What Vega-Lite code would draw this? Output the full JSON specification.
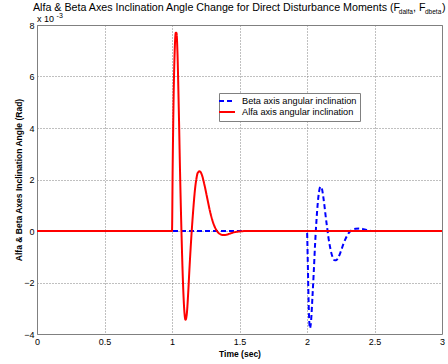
{
  "$schema": "https://vega.github.io/schema/vega-lite/v6.json",
  "autosize": "none",
  "width": 405,
  "height": 309,
  "padding": {"left": 37, "top": 25, "right": 6, "bottom": 30},
  "background": "white",
  "config": {
    "view": {"stroke": "#808080", "strokeWidth": 1},
    "font": "Liberation Sans"
  },
  "datasets": {
    "curves": [
      {"t": 0, "v": 0, "series": "Beta axis angular inclination"},
      {"t": 2.0, "v": 0, "series": "Beta axis angular inclination"},
      {"t": 2.005, "v": -1.0, "series": "Beta axis angular inclination"},
      {"t": 2.01, "v": -2.3, "series": "Beta axis angular inclination"},
      {"t": 2.015, "v": -3.3, "series": "Beta axis angular inclination"},
      {"t": 2.022, "v": -3.78, "series": "Beta axis angular inclination"},
      {"t": 2.03, "v": -3.5, "series": "Beta axis angular inclination"},
      {"t": 2.04, "v": -2.6, "series": "Beta axis angular inclination"},
      {"t": 2.05, "v": -1.6, "series": "Beta axis angular inclination"},
      {"t": 2.06, "v": -0.5, "series": "Beta axis angular inclination"},
      {"t": 2.07, "v": 0.4, "series": "Beta axis angular inclination"},
      {"t": 2.08, "v": 1.1, "series": "Beta axis angular inclination"},
      {"t": 2.09, "v": 1.55, "series": "Beta axis angular inclination"},
      {"t": 2.1, "v": 1.72, "series": "Beta axis angular inclination"},
      {"t": 2.11, "v": 1.65, "series": "Beta axis angular inclination"},
      {"t": 2.12, "v": 1.35, "series": "Beta axis angular inclination"},
      {"t": 2.13, "v": 0.95, "series": "Beta axis angular inclination"},
      {"t": 2.14, "v": 0.5, "series": "Beta axis angular inclination"},
      {"t": 2.15, "v": 0.1, "series": "Beta axis angular inclination"},
      {"t": 2.16, "v": -0.3, "series": "Beta axis angular inclination"},
      {"t": 2.17, "v": -0.6, "series": "Beta axis angular inclination"},
      {"t": 2.18, "v": -0.85, "series": "Beta axis angular inclination"},
      {"t": 2.19, "v": -1.02, "series": "Beta axis angular inclination"},
      {"t": 2.2, "v": -1.12, "series": "Beta axis angular inclination"},
      {"t": 2.215, "v": -1.14, "series": "Beta axis angular inclination"},
      {"t": 2.23, "v": -1.05, "series": "Beta axis angular inclination"},
      {"t": 2.25, "v": -0.8, "series": "Beta axis angular inclination"},
      {"t": 2.27, "v": -0.5, "series": "Beta axis angular inclination"},
      {"t": 2.29, "v": -0.25, "series": "Beta axis angular inclination"},
      {"t": 2.31, "v": -0.07, "series": "Beta axis angular inclination"},
      {"t": 2.33, "v": 0.03, "series": "Beta axis angular inclination"},
      {"t": 2.36, "v": 0.09, "series": "Beta axis angular inclination"},
      {"t": 2.39, "v": 0.1, "series": "Beta axis angular inclination"},
      {"t": 2.42, "v": 0.07, "series": "Beta axis angular inclination"},
      {"t": 2.45, "v": 0.03, "series": "Beta axis angular inclination"},
      {"t": 2.48, "v": 0, "series": "Beta axis angular inclination"},
      {"t": 3.0, "v": 0, "series": "Beta axis angular inclination"},
      {"t": 0, "v": 0, "series": "Alfa axis angular inclination"},
      {"t": 1.0, "v": 0, "series": "Alfa axis angular inclination"},
      {"t": 1.005, "v": 2.5, "series": "Alfa axis angular inclination"},
      {"t": 1.012, "v": 5.2, "series": "Alfa axis angular inclination"},
      {"t": 1.02, "v": 7.0, "series": "Alfa axis angular inclination"},
      {"t": 1.028, "v": 7.7, "series": "Alfa axis angular inclination"},
      {"t": 1.033, "v": 7.7, "series": "Alfa axis angular inclination"},
      {"t": 1.04, "v": 7.0, "series": "Alfa axis angular inclination"},
      {"t": 1.05, "v": 4.8, "series": "Alfa axis angular inclination"},
      {"t": 1.06, "v": 2.2, "series": "Alfa axis angular inclination"},
      {"t": 1.07, "v": 0, "series": "Alfa axis angular inclination"},
      {"t": 1.08, "v": -1.8, "series": "Alfa axis angular inclination"},
      {"t": 1.09, "v": -3.0, "series": "Alfa axis angular inclination"},
      {"t": 1.1, "v": -3.45, "series": "Alfa axis angular inclination"},
      {"t": 1.11, "v": -3.2, "series": "Alfa axis angular inclination"},
      {"t": 1.12, "v": -2.4, "series": "Alfa axis angular inclination"},
      {"t": 1.13, "v": -1.4, "series": "Alfa axis angular inclination"},
      {"t": 1.14, "v": -0.5, "series": "Alfa axis angular inclination"},
      {"t": 1.15, "v": 0.3, "series": "Alfa axis angular inclination"},
      {"t": 1.16, "v": 1.0, "series": "Alfa axis angular inclination"},
      {"t": 1.17, "v": 1.6, "series": "Alfa axis angular inclination"},
      {"t": 1.18, "v": 2.0, "series": "Alfa axis angular inclination"},
      {"t": 1.19, "v": 2.25, "series": "Alfa axis angular inclination"},
      {"t": 1.205, "v": 2.32, "series": "Alfa axis angular inclination"},
      {"t": 1.22, "v": 2.2, "series": "Alfa axis angular inclination"},
      {"t": 1.24, "v": 1.8, "series": "Alfa axis angular inclination"},
      {"t": 1.26, "v": 1.3, "series": "Alfa axis angular inclination"},
      {"t": 1.28, "v": 0.8, "series": "Alfa axis angular inclination"},
      {"t": 1.3, "v": 0.4, "series": "Alfa axis angular inclination"},
      {"t": 1.32, "v": 0.12, "series": "Alfa axis angular inclination"},
      {"t": 1.34, "v": -0.05, "series": "Alfa axis angular inclination"},
      {"t": 1.36, "v": -0.13, "series": "Alfa axis angular inclination"},
      {"t": 1.38, "v": -0.16, "series": "Alfa axis angular inclination"},
      {"t": 1.4, "v": -0.15, "series": "Alfa axis angular inclination"},
      {"t": 1.43, "v": -0.1, "series": "Alfa axis angular inclination"},
      {"t": 1.46, "v": -0.05, "series": "Alfa axis angular inclination"},
      {"t": 1.5, "v": -0.02, "series": "Alfa axis angular inclination"},
      {"t": 1.55, "v": 0, "series": "Alfa axis angular inclination"},
      {"t": 3.0, "v": 0, "series": "Alfa axis angular inclination"}
    ],
    "titleparts": [
      {"part": "main", "text": "Alfa & Beta Axes Inclination Angle Change for Direct Disturbance Moments (F", "pos": -0.03},
      {"part": "comma", "text": ", F", "pos": 2.785},
      {"part": "close", "text": ")", "pos": 3.0}
    ],
    "subparts": [
      {"text": "dalfa", "pos": 2.68},
      {"text": "dbeta", "pos": 2.874}
    ]
  },
  "layer": [
    {
      "data": {"name": "curves"},
      "transform": [{"filter": "datum.series === 'Beta axis angular inclination'"}],
      "mark": {"type": "line", "strokeWidth": 2, "interpolate": "monotone", "clip": true},
      "encoding": {
        "x": {
          "field": "t", "type": "quantitative",
          "scale": {"domain": [0, 3], "nice": false},
          "axis": {
            "values": [0, 0.5, 1, 1.5, 2, 2.5, 3], "format": "~g",
            "title": "Time (sec)",
            "titleFont": "Liberation Sans", "titleFontSize": 8.5, "titleFontWeight": "bold", "titleColor": "black",
            "titlePadding": 3,
            "labelFont": "Liberation Sans", "labelFontSize": 9, "labelColor": "black",
            "labelPadding": 3,
            "grid": true, "gridDash": [1, 2], "gridColor": "#808080", "gridOpacity": 1,
            "domain": false, "ticks": false, "labelFlush": false
          }
        },
        "y": {
          "field": "v", "type": "quantitative",
          "scale": {"domain": [-4, 8], "nice": false},
          "axis": {
            "values": [-4, -2, 0, 2, 4, 6, 8],
            "title": "Alfa & Beta Axes Inclination Angle (Rad)",
            "titleFont": "Liberation Sans", "titleFontSize": 8.5, "titleFontWeight": "bold", "titleColor": "black",
            "titlePadding": 0,
            "labelFont": "Liberation Sans", "labelFontSize": 9, "labelColor": "black",
            "labelPadding": 3,
            "grid": true, "gridDash": [1, 2], "gridColor": "#808080", "gridOpacity": 1,
            "domain": false, "ticks": false
          }
        },
        "color": {
          "field": "series", "type": "nominal",
          "scale": {"domain": ["Beta axis angular inclination", "Alfa axis angular inclination"], "range": ["#0000ff", "#ff0000"]},
          "legend": {
            "orient": "none", "legendX": 182, "legendY": 68,
            "title": null,
            "labelFont": "Liberation Sans", "labelFontSize": 9.2, "labelColor": "black",
            "symbolType": "M-2,0H2", "symbolSize": 64, "symbolStrokeWidth": 2, "symbolFillColor": "transparent",
            "strokeColor": "#808080", "fillColor": "white", "padding": 3,
            "rowPadding": -4, "labelOffset": 10
          }
        },
        "strokeDash": {
          "field": "series", "type": "nominal",
          "scale": {"domain": ["Beta axis angular inclination", "Alfa axis angular inclination"], "range": [[5, 3], [1, 0]]},
          "legend": {
            "orient": "none", "legendX": 182, "legendY": 68,
            "title": null,
            "labelFont": "Liberation Sans", "labelFontSize": 9.2, "labelColor": "black",
            "symbolType": "M-2,0H2", "symbolSize": 64, "symbolStrokeWidth": 2, "symbolFillColor": "transparent",
            "strokeColor": "#808080", "fillColor": "white", "padding": 3,
            "rowPadding": -4, "labelOffset": 10
          }
        }
      }
    },
    {
      "data": {"name": "curves"},
      "transform": [{"filter": "datum.series === 'Alfa axis angular inclination'"}],
      "mark": {"type": "line", "strokeWidth": 2, "interpolate": "monotone", "clip": true},
      "encoding": {
        "x": {"field": "t", "type": "quantitative"},
        "y": {"field": "v", "type": "quantitative"},
        "color": {"field": "series", "type": "nominal"},
        "strokeDash": {"field": "series", "type": "nominal"}
      }
    },
    {
      "data": {"name": "titleparts"},
      "mark": {"type": "text", "align": "left", "baseline": "alphabetic", "fontSize": 10.7, "font": "Liberation Sans", "fill": "black", "dy": -14},
      "encoding": {
        "x": {"field": "pos", "type": "quantitative"},
        "y": {"datum": 8},
        "text": {"field": "text"}
      }
    },
    {
      "data": {"name": "subparts"},
      "mark": {"type": "text", "align": "left", "baseline": "alphabetic", "fontSize": 6.5, "font": "Liberation Sans", "fill": "black", "dy": -11},
      "encoding": {
        "x": {"field": "pos", "type": "quantitative"},
        "y": {"datum": 8},
        "text": {"field": "text"}
      }
    },
    {
      "data": {"values": [{"text": "x 10", "pos": 0.0}]},
      "mark": {"type": "text", "align": "left", "baseline": "alphabetic", "fontSize": 9, "font": "Liberation Sans", "fill": "black", "dy": -3},
      "encoding": {
        "x": {"field": "pos", "type": "quantitative"},
        "y": {"datum": 8},
        "text": {"field": "text"}
      }
    },
    {
      "data": {"values": [{"text": "-3", "pos": 0.145}]},
      "mark": {"type": "text", "align": "left", "baseline": "alphabetic", "fontSize": 7, "font": "Liberation Sans", "fill": "black", "dy": -7},
      "encoding": {
        "x": {"field": "pos", "type": "quantitative"},
        "y": {"datum": 8},
        "text": {"field": "text"}
      }
    }
  ]
}
